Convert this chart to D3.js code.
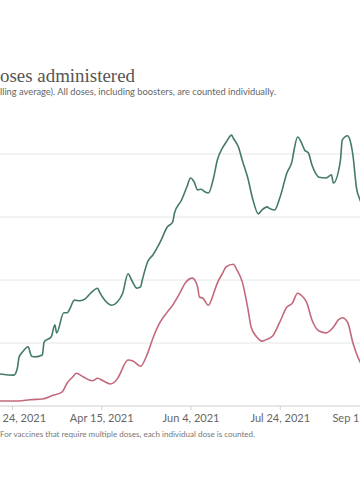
<!DOCTYPE html>
<html>
<head>
<meta charset="utf-8">
<script src="https://cdn.jsdelivr.net/npm/d3@7"></script>
<style>
  html, body { margin: 0; padding: 0; background: #fff; overflow: hidden; }
  svg { display: block; }
</style>
</head>
<body>
<svg id="chart" width="360" height="504"></svg>
<script>
// ---- Data (thousands of doses per day, 7-day rolling average) ----
const titleText = "oses administered";
const subtitleText = "lling average). All doses, including boosters, are counted individually.";
const noteText = "For vaccines that require multiple doses, each individual dose is counted.";

const tickDates = ["2021-02-24", "2021-04-15", "2021-06-04", "2021-07-24", "2021-09-12"];
const gridValues = [0, 100, 200, 300, 400];

const greenSeries = [
  ["2021-02-17", 51], ["2021-02-25", 49], ["2021-02-27", 60], ["2021-02-28", 78],
  ["2021-03-02", 86], ["2021-03-05", 94], ["2021-03-07", 79], ["2021-03-09", 78],
  ["2021-03-13", 81], ["2021-03-14", 102], ["2021-03-18", 110], ["2021-03-20", 129],
  ["2021-03-21", 116], ["2021-03-25", 148], ["2021-03-27", 148], ["2021-03-28", 152],
  ["2021-03-31", 168], ["2021-04-03", 167], ["2021-04-06", 170], ["2021-04-09", 179],
  ["2021-04-13", 187], ["2021-04-14", 181], ["2021-04-17", 168], ["2021-04-21", 160],
  ["2021-04-24", 165], ["2021-04-27", 179], ["2021-04-30", 210], ["2021-05-02", 200],
  ["2021-05-05", 187], ["2021-05-07", 189], ["2021-05-08", 200], ["2021-05-11", 229],
  ["2021-05-14", 240], ["2021-05-18", 260], ["2021-05-22", 284], ["2021-05-25", 292],
  ["2021-05-26", 306], ["2021-05-30", 327], ["2021-06-02", 348], ["2021-06-04", 362],
  ["2021-06-06", 356], ["2021-06-08", 343], ["2021-06-10", 344], ["2021-06-12", 340],
  ["2021-06-14", 338], ["2021-06-17", 363], ["2021-06-19", 390], ["2021-06-22", 410],
  ["2021-06-24", 419], ["2021-06-27", 430], ["2021-06-28", 425], ["2021-07-01", 410],
  ["2021-07-03", 390], ["2021-07-06", 363], ["2021-07-09", 327], ["2021-07-12", 305],
  ["2021-07-14", 311], ["2021-07-17", 316], ["2021-07-18", 314], ["2021-07-21", 311],
  ["2021-07-24", 330], ["2021-07-28", 370], ["2021-07-31", 390], ["2021-08-01", 406],
  ["2021-08-03", 427], ["2021-08-05", 419], ["2021-08-07", 406], ["2021-08-09", 402],
  ["2021-08-11", 383], ["2021-08-13", 370], ["2021-08-15", 363], ["2021-08-19", 362],
  ["2021-08-22", 367], ["2021-08-23", 354], ["2021-08-27", 390], ["2021-08-28", 422],
  ["2021-08-31", 429], ["2021-09-01", 425], ["2021-09-03", 398], ["2021-09-05", 346],
  ["2021-09-07", 327], ["2021-09-11", 300]
];

const redSeries = [
  ["2021-02-17", 8], ["2021-02-28", 8], ["2021-03-06", 10], ["2021-03-13", 11],
  ["2021-03-19", 17], ["2021-03-24", 22], ["2021-03-27", 37], ["2021-03-30", 46],
  ["2021-04-01", 52], ["2021-04-05", 46], ["2021-04-10", 40], ["2021-04-13", 44],
  ["2021-04-16", 40], ["2021-04-20", 35], ["2021-04-24", 43], ["2021-04-25", 48],
  ["2021-04-30", 73], ["2021-05-03", 71], ["2021-05-07", 63], ["2021-05-11", 84],
  ["2021-05-14", 108], ["2021-05-18", 133], ["2021-05-22", 149], ["2021-05-25", 160],
  ["2021-05-29", 179], ["2021-06-01", 195], ["2021-06-05", 203], ["2021-06-08", 189],
  ["2021-06-09", 173], ["2021-06-11", 171], ["2021-06-14", 160], ["2021-06-17", 179],
  ["2021-06-19", 195], ["2021-06-22", 211], ["2021-06-24", 221], ["2021-06-28", 225],
  ["2021-06-30", 216], ["2021-07-03", 197], ["2021-07-06", 157], ["2021-07-08", 125],
  ["2021-07-11", 110], ["2021-07-14", 103], ["2021-07-17", 106], ["2021-07-20", 111],
  ["2021-07-24", 133], ["2021-07-28", 157], ["2021-07-31", 163], ["2021-08-03", 179],
  ["2021-08-06", 173], ["2021-08-08", 165], ["2021-08-11", 137], ["2021-08-15", 119],
  ["2021-08-19", 116], ["2021-08-23", 125], ["2021-08-26", 137], ["2021-08-28", 140],
  ["2021-08-31", 133], ["2021-09-03", 100], ["2021-09-06", 76], ["2021-09-09", 60]
];

// ---- Drawing ----
const W = 360;
const parse = d3.utcParse("%Y-%m-%d");
const svg = d3.select("#chart");

const x = d3.scaleUtc()
  .domain([parse(tickDates[0]), parse(tickDates[tickDates.length - 1])])
  .range([12, 369]);
const y = d3.scaleLinear().domain([0, 400]).range([406, 154]);

// title & subtitle
svg.append("text")
  .attr("x", 0).attr("y", 82)
  .attr("font-family", "'Liberation Serif', 'DejaVu Serif', serif")
  .attr("font-size", 18)
  .attr("fill", "#555")
  .attr("textLength", 135).attr("lengthAdjust", "spacingAndGlyphs")
  .text(titleText);

svg.append("text")
  .attr("x", 0).attr("y", 95)
  .attr("font-family", "Lato, 'Noto Sans', sans-serif")
  .attr("font-size", 9)
  .attr("fill", "#666")
  .attr("textLength", 276).attr("lengthAdjust", "spacingAndGlyphs")
  .text(subtitleText);

// gridlines
svg.append("g")
  .selectAll("line")
  .data(gridValues.filter(v => v > 0))
  .join("line")
  .attr("x1", 0).attr("x2", W)
  .attr("y1", d => y(d)).attr("y2", d => y(d))
  .attr("stroke", "#e6e6e6")
  .attr("stroke-width", 1);

// x axis (edge labels show only the part visible in the cropped view)
const fullFmt = d3.utcFormat("%b %-d, %Y");
const lastIdx = tickDates.length - 1;
const xAxis = d3.axisBottom(x)
  .tickValues(tickDates.map(parse))
  .tickFormat((d, i) => i === 0 ? fullFmt(d).slice(4) : i === lastIdx ? fullFmt(d).slice(0, 5) : fullFmt(d))
  .tickSize(4)
  .tickPadding(4);

const gx = svg.append("g")
  .attr("transform", `translate(0,${y(0)})`)
  .call(xAxis);
gx.select(".domain").remove();
gx.append("line")
  .attr("x1", 0).attr("x2", W)
  .attr("stroke", "#cfcfcf").attr("stroke-width", 1);
gx.selectAll(".tick line").attr("stroke", "#cfcfcf");
gx.selectAll(".tick text")
  .attr("fill", "#666")
  .attr("font-family", "Lato, 'Noto Sans', sans-serif")
  .attr("font-size", 11);
// first label: left-aligned at the left edge; last label: right-aligned at the right edge
gx.selectAll(".tick").each(function (d, i) {
  const t = d3.select(this).select("text");
  const tx = x(d);
  if (i === 0) t.attr("text-anchor", "start").attr("x", 2 - tx);
  if (i === lastIdx) t.attr("text-anchor", "end").attr("x", (W - 1) - tx);
});

// lines
const line = d3.line()
  .x(d => x(parse(d[0])))
  .y(d => y(d[1]))
  .curve(d3.curveMonotoneX);

svg.append("path")
  .datum(redSeries)
  .attr("d", line)
  .attr("fill", "none")
  .attr("stroke", "#c26a7c")
  .attr("stroke-width", 1.6)
  .attr("stroke-linejoin", "round");

svg.append("path")
  .datum(greenSeries)
  .attr("d", line)
  .attr("fill", "none")
  .attr("stroke", "#447a69")
  .attr("stroke-width", 1.6)
  .attr("stroke-linejoin", "round");

// note
svg.append("text")
  .attr("x", 0).attr("y", 437)
  .attr("font-family", "Lato, 'Noto Sans', sans-serif")
  .attr("font-size", 8)
  .attr("fill", "#777")
  .attr("textLength", 255).attr("lengthAdjust", "spacingAndGlyphs")
  .text(noteText);
</script>
</body>
</html>
